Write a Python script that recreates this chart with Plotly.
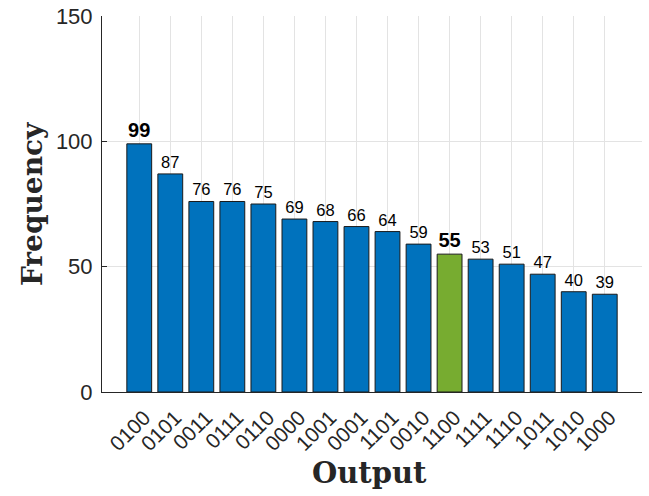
import plotly.graph_objects as go

categories = ["0100", "0101", "0011", "0111", "0110", "0000", "1001", "0001",
              "1101", "0010", "1100", "1111", "1110", "1011", "1010", "1000"]
values = [99, 87, 76, 76, 75, 69, 68, 66, 64, 59, 55, 53, 51, 47, 40, 39]
highlight = ["0100", "1100"]
green_bar = "1100"

BLUE = "#0072BD"
GREEN = "#77AC30"

colors = [GREEN if c == green_bar else BLUE for c in categories]
texts = [f"<b>{v}</b>" if c in highlight else str(v) for c, v in zip(categories, values)]
sizes = [20 if c in highlight else 16.5 for c in categories]

fig = go.Figure()
fig.add_trace(go.Bar(
    x=categories, y=values, width=0.8,
    marker=dict(color=colors, line=dict(color="#1a1a1a", width=1)),
    text=texts, textposition="outside", cliponaxis=False, constraintext="none",
    textfont=dict(family="Liberation Sans, Arial", size=sizes, color="#000000"),
    textangle=0, hoverinfo="skip",
))

fig.update_layout(
    width=649, height=496,
    margin=dict(l=102, r=7, t=16, b=104),
    plot_bgcolor="white", paper_bgcolor="white",
    showlegend=False,
    font=dict(family="Liberation Sans, Arial", color="#262626"),
    xaxis=dict(
        type="category", range=[-1.2, 16.2], automargin=False,
        showgrid=True, gridcolor="#e3e3e3", gridwidth=1,
        showline=True, linecolor="#262626", linewidth=1,
        ticks="", tickangle=-45, tickfont=dict(size=21, color="#262626"),
        zeroline=False, ticklabelstandoff=4, ticklabelshift=5,
        ticklabeloverflow="allow",
    ),
    yaxis=dict(
        range=[0, 150], dtick=50, tick0=0, automargin=False,
        showgrid=True, gridcolor="#e3e3e3", gridwidth=1,
        showline=True, linecolor="#262626", linewidth=1,
        ticks="inside", ticklen=5, tickcolor="#262626",
        tickfont=dict(size=22, color="#262626"),
        zeroline=False, ticklabelstandoff=4, ticklabeloverflow="allow",
    ),
    annotations=[
        dict(text="<b>Output</b>", xref="paper", yref="paper", x=0.496, y=-0.2154,
             showarrow=False, xanchor="center", yanchor="middle",
             font=dict(family="DejaVu Serif", size=29, color="#262626")),
        dict(text="<b>Frequency</b>", xref="paper", yref="paper", x=-0.1296, y=0.5,
             showarrow=False, xanchor="center", yanchor="middle", textangle=-90,
             font=dict(family="DejaVu Serif", size=28, color="#262626")),
    ],
)

fig.write_html("out.html", config={"displayModeBar": False},
               post_script="document.body.style.margin='0';")
